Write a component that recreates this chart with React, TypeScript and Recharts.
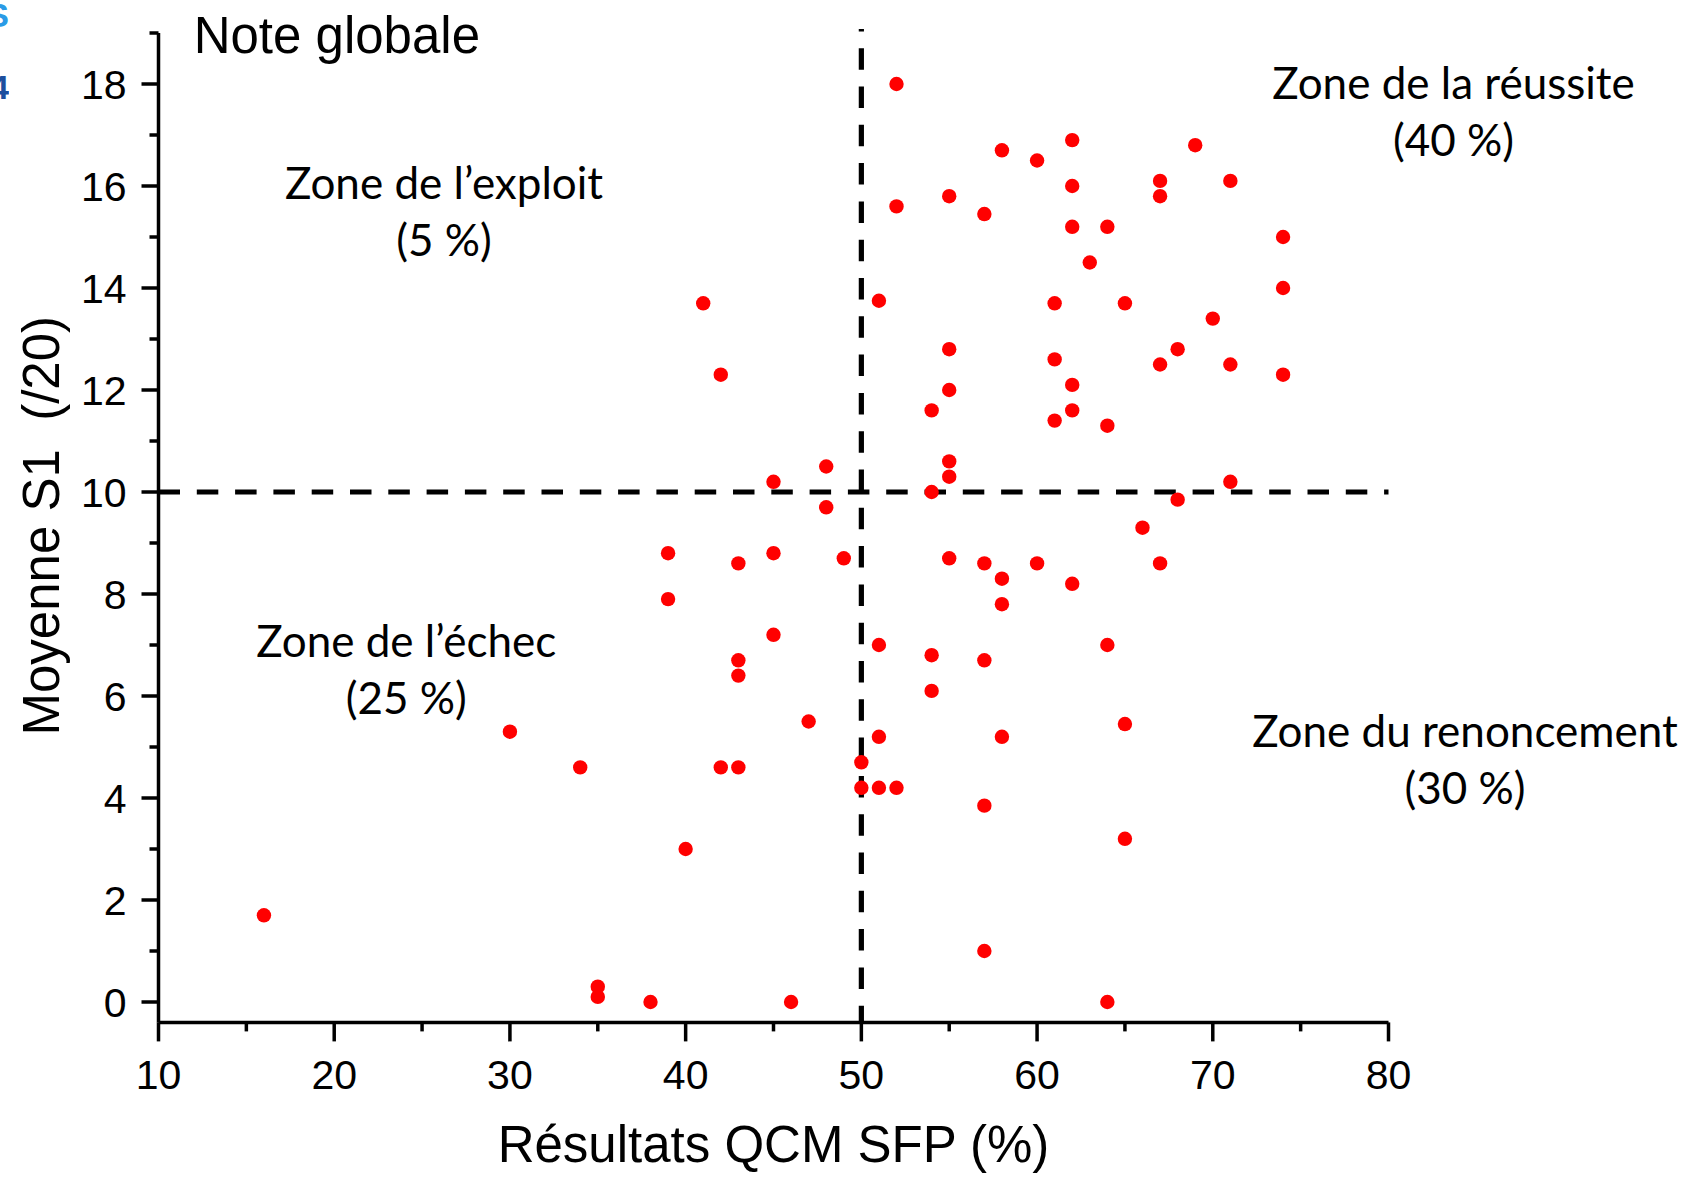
import React from "react";
import {
  ReferenceDot,
  ReferenceLine,
  Scatter,
  ScatterChart,
  XAxis,
  YAxis,
} from "recharts";

// One entry per student: QCM SFP score (%) and first-semester average (/20).
const QCM_SCORES = [
  16, 30, 34, 35, 35, 38, 39, 39, 40, 41, 42, 42, 43, 43, 43, 43, 45, 45, 45, 46,
  47, 48, 48, 49, 50, 50, 51, 51, 51, 51, 52, 52, 52, 54, 54, 54, 54, 55, 55, 55,
  55, 55, 55, 57, 57, 57, 57, 57, 58, 58, 58, 58, 60, 60, 61, 61, 61, 62, 62, 62,
  62, 62, 62, 63, 64, 64, 64, 64, 65, 65, 65, 66, 67, 67, 67, 67, 68, 68, 69, 70,
  71, 71, 71, 74, 74, 74,
];
const S1_AVERAGES = [
  1.7, 5.3, 4.6, 0.3, 0.1, 0, 8.8, 7.9, 3.0, 13.7, 12.3, 4.6, 8.6, 6.7, 6.4, 4.6, 10.2, 8.8, 7.2, 0,
  5.5, 10.5, 9.7, 8.7, 4.7, 4.2, 13.75, 7.0, 5.2, 4.2, 18.0, 15.6, 4.2, 11.6, 10.0, 6.8, 6.1, 15.8, 12.8, 12.0,
  10.6, 10.3, 8.7, 15.45, 8.6, 6.7, 3.85, 1.0, 16.7, 8.3, 7.8, 5.2, 16.5, 8.6, 13.7, 12.6, 11.4, 16.9, 16.0, 15.2,
  12.1, 11.6, 8.2, 14.5, 15.2, 11.3, 7.0, 0, 13.7, 5.45, 3.2, 9.3, 16.1, 15.8, 12.5, 8.6, 12.8, 9.85, 16.8, 13.4,
  16.1, 12.5, 10.2, 15.0, 14.0, 12.3,
];

const X_TICKS = [10, 15, 20, 25, 30, 35, 40, 45, 50, 55, 60, 65, 70, 75, 80];
const Y_TICKS = [0, 1, 2, 3, 4, 5, 6, 7, 8, 9, 10, 11, 12, 13, 14, 15, 16, 17, 18, 19];

const ZONE_NAMES = ["Zone de la réussite", "Zone de l’exploit", "Zone de l’échec", "Zone du renoncement"];
const ZONE_SHARES = ["(40 %)", "(5 %)", "(25 %)", "(30 %)"];
// where each zone caption sits, in chart units (centre of first line)
const ZONE_AT = [
  { x: 83.7, y: 18.0 },
  { x: 26.25, y: 16.04 },
  { x: 24.1, y: 7.06 },
  { x: 84.35, y: 5.31 },
];

const points = QCM_SCORES.map((x, i) => ({ x, y: S1_AVERAGES[i] }));

const W = 1685;
const H = 1178;
const AXIS_W = 158.5;
const PLOT_RIGHT = 1388.5;
const PLOT_TOP = 33;
const PLOT_BOTTOM = 1022.4;

const SANS = "'Liberation Sans', Arial, sans-serif";
const ZONE_FONT = "Lato, 'Open Sans', sans-serif";
const INK = "#000000";
const DOT = "#ff0000";
const AXIS_STROKE = 3.5;
const DASH_STROKE = 5.2;

const X_TICK_SIZE = 19;
const X_TICK_MARGIN = 18;
const Y_TICK_SIZE = 17;
const Y_TICK_MARGIN = 15;

function XTick(props: any) {
  const { x, y, payload } = props;
  const major = payload.value % 10 === 0;
  const axisY = y - X_TICK_SIZE - X_TICK_MARGIN;
  return (
    <g>
      <line x1={x} x2={x} y1={axisY} y2={axisY + (major ? X_TICK_SIZE : 9)} stroke={INK} strokeWidth={AXIS_STROKE} />
      {major && (
        <text x={x} y={y} dy="0.71em" textAnchor="middle" fontFamily={SANS} fontSize={41} fill={INK}>
          {payload.value}
        </text>
      )}
    </g>
  );
}

function YTick(props: any) {
  const { x, y, payload } = props;
  const major = payload.value % 2 === 0;
  const axisX = x + Y_TICK_SIZE + Y_TICK_MARGIN;
  return (
    <g>
      <line x1={axisX} x2={axisX - (major ? Y_TICK_SIZE : 9)} y1={y} y2={y} stroke={INK} strokeWidth={AXIS_STROKE} />
      {major && (
        <text x={x} y={y} dy="0.355em" textAnchor="end" fontFamily={SANS} fontSize={41} fill={INK}>
          {payload.value}
        </text>
      )}
    </g>
  );
}

const zoneCaption = (i: number) => (p: any) => (
  <g>
    <text x={p.cx} y={p.cy} dy="0.35em" textAnchor="middle" fontFamily={ZONE_FONT} fontSize={44} fill={INK}>
      {ZONE_NAMES[i]}
    </text>
    <text x={p.cx} y={p.cy + 57} dy="0.35em" textAnchor="middle" fontFamily={ZONE_FONT} fontSize={44} fill={INK}>
      {ZONE_SHARES[i]}
    </text>
  </g>
);

const title = (p: any) => (
  <text x={p.cx} y={p.cy} fontFamily={SANS} fontSize={51} fill={INK}>
    Note globale
  </text>
);

export default function App() {
  return (
    <div style={{ position: "absolute", left: 0, top: 0, width: W, height: H, background: "#fff" }}>
      {/* cut-off glyphs of a neighbouring figure at the left edge */}
      <div style={{ position: "absolute", left: 0, top: 0, width: 9, height: 110, overflow: "hidden" }}>
        <span style={{ position: "absolute", right: 0, top: -4, color: "#2a9be6", font: `bold 34px ${SANS}` }}>S</span>
        <span style={{ position: "absolute", right: 0, top: 68, color: "#1d4f9e", font: `bold 34px ${SANS}` }}>4</span>
      </div>
      <ScatterChart
        width={W}
        height={H}
        margin={{ top: PLOT_TOP, right: W - PLOT_RIGHT, bottom: 0, left: 0 }}
      >
        <XAxis
          type="number"
          dataKey="x"
          domain={[10, 80]}
          ticks={X_TICKS}
          interval={0}
          height={H - PLOT_BOTTOM}
          tickSize={X_TICK_SIZE}
          tickMargin={X_TICK_MARGIN}
          tickLine={false}
          tick={(p: any) => <XTick {...p} />}
          axisLine={{ stroke: INK, strokeWidth: AXIS_STROKE }}
          label={{
            content: (p: any) => (
              <text
                x={p.viewBox.x + p.viewBox.width / 2}
                y={p.viewBox.y + 140}
                textAnchor="middle"
                fontFamily={SANS}
                fontSize={51}
                fill={INK}
              >
                Résultats QCM SFP (%)
              </text>
            ),
          }}
        />
        <YAxis
          type="number"
          dataKey="y"
          domain={[-0.4, 19]}
          ticks={Y_TICKS}
          interval={0}
          width={AXIS_W}
          tickSize={Y_TICK_SIZE}
          tickMargin={Y_TICK_MARGIN}
          tickLine={false}
          tick={(p: any) => <YTick {...p} />}
          axisLine={{ stroke: INK, strokeWidth: AXIS_STROKE }}
          label={{
            content: (p: any) => {
              const cx = p.viewBox.x + 59;
              const cy = p.viewBox.y + p.viewBox.height / 2 - 2;
              return (
                <text
                  x={cx}
                  y={cy}
                  transform={`rotate(-90 ${cx} ${cy})`}
                  textAnchor="middle"
                  fontFamily={SANS}
                  fontSize={51}
                  fill={INK}
                  style={{ whiteSpace: "pre" }}
                >
                  {"Moyenne S1  (/20)"}
                </text>
              );
            },
          }}
        />
        <ReferenceLine
          y={10}
          stroke={INK}
          strokeWidth={DASH_STROKE}
          strokeDasharray="21.5 16.8"
          ifOverflow="visible"
        />
        <ReferenceLine
          segment={[
            { x: 50, y: 19.08 },
            { x: 50, y: -0.4 },
          ]}
          stroke={INK}
          strokeWidth={DASH_STROKE}
          strokeDasharray="21.5 16.8"
          strokeDashoffset={19}
          ifOverflow="visible"
        />
        <Scatter
          data={points}
          isAnimationActive={false}
          shape={(p: any) => <circle cx={p.cx} cy={p.cy} r={7.2} fill={DOT} />}
        />
        {ZONE_AT.map((z, i) => (
          <ReferenceDot key={ZONE_NAMES[i]} x={z.x} y={z.y} r={1} ifOverflow="visible" shape={zoneCaption(i)} />
        ))}
        <ReferenceDot x={12.0} y={18.6} r={1} ifOverflow="visible" shape={title} />
      </ScatterChart>
    </div>
  );
}
